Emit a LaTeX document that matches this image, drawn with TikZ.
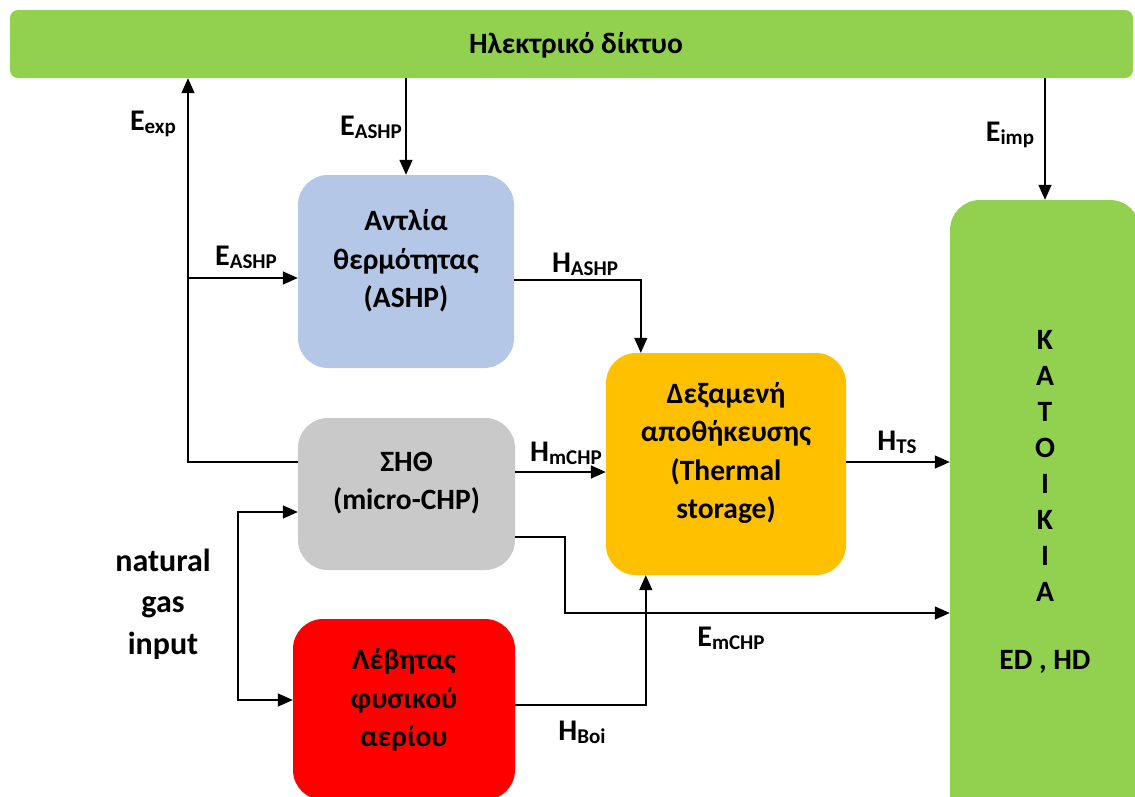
\documentclass[tikz,border=0pt]{standalone}
\usepackage{fontspec}
\setmainfont{Carlito}
\usetikzlibrary{arrows.meta}
\definecolor{gridgreen}{HTML}{92D050}
\definecolor{hpblue}{HTML}{B4C7E7}
\definecolor{chpgray}{HTML}{C9C9C9}
\definecolor{tankorange}{HTML}{FFC000}
\definecolor{boilred}{HTML}{FF0000}
% subscript part of a flow label
\newcommand{\flowsub}[1]{\raisebox{-3pt}{\fontsize{21}{21}\selectfont #1}}
\begin{document}
\begin{tikzpicture}[x=1pt,y=-1pt,
  unit/.style={draw=none, rounded corners=30pt, inner sep=0pt},
  txt/.style={font=\bfseries\fontsize{29.5}{38.5}\selectfont, align=center, inner sep=0pt},
  flow/.style={font=\bfseries\fontsize{30}{30}\selectfont, inner sep=0pt},
  arr/.style={line width=1.4pt, -{Triangle[length=15pt,width=13pt]}},
  biarr/.style={line width=1.4pt, {Triangle[length=15pt,width=13pt]}-{Triangle[length=15pt,width=13pt]}}]
\useasboundingbox (0,0) rectangle (1135,796);
\clip (0,0) rectangle (1135,796);

% grid bar and units
\node[unit, fill=gridgreen, rounded corners=8pt, minimum width=1123pt, minimum height=68pt] (grid) at (571.5,44) {};
\node[txt] (gridT) at (576,45) {Ηλεκτρικό δίκτυο};

\node[unit, fill=hpblue, minimum width=216pt, minimum height=193pt] (ashp) at (406,271.5) {};
\node[txt] (ashpT) at (406,261) {Αντλία\\θερμότητας\\(ASHP)};

\node[unit, fill=chpgray, minimum width=217pt, minimum height=152pt] (chp) at (406.5,494) {};
\node[txt] (chpT) at (406.5,483) {ΣΗΘ\\(micro-CHP)};

\node[unit, fill=boilred, minimum width=222pt, minimum height=181pt] (boiler) at (404,709.5) {};
\node[txt] (boilerT) at (404,700) {Λέβητας\\φυσικού\\αερίου};

\node[unit, fill=tankorange, minimum width=240pt, minimum height=222pt] (store) at (726,464) {};
\node[txt] (storeT) at (726,453) {Δεξαμενή\\αποθήκευσης\\(Thermal\\storage)};

\node[unit, fill=gridgreen, minimum width=190pt, minimum height=630pt] (house) at (1045,515) {};
\node[txt, font=\bfseries\fontsize{29.5}{36}\selectfont] (houseT) at (1045,466) {Κ\\Α\\Τ\\Ο\\Ι\\Κ\\Ι\\Α};
\node[txt] (houseD) at (1045,662) {ED , HD};

\node[txt, font=\bfseries\fontsize{32}{41.5}\selectfont] (gas) at (163,604) {natural\\gas\\input};

% junctions of the orthogonal connectors
\coordinate (split) at (188,278);
\coordinate (ebend) at (565,613);
\coordinate (gtop) at (238,512);
\coordinate (gbot) at (238,700);

% electricity flows
\draw[arr] ([yshift=32pt]chp.west) -| (grid.south -| split);
\draw[arr] (split) -- (split -| ashp.west);
\draw[arr] (grid.south -| ashp.north) -- (ashp.north);
\draw[arr] (grid.south -| house.north) -- (house.north);
\draw[arr] ([yshift=-43pt]chp.east) -| (ebend) -- (ebend -| house.west);

% heat flows
\draw[arr] ([yshift=-8.5pt]ashp.east) -| ([xshift=35pt]store.north west);
\draw[arr] ([yshift=22pt]chp.east) -- ([yshift=22pt]chp.east -| store.west);
\draw[arr] ([yshift=2pt]store.east) -- ([yshift=2pt]store.east -| house.west);
\draw[arr] ([yshift=4.5pt]boiler.east) -| ([xshift=40pt]store.south west);

% gas supply
\draw[biarr] (chp.west |- gtop) -- (gtop) -- (gbot) -- (boiler.west |- gbot);

% flow labels
\node[flow] (lexp) at (153,124) {E\flowsub{exp}};
\node[flow] (lashpA) at (371,127) {E\flowsub{ASHP}};
\node[flow] (limp) at (1010,135) {E\flowsub{imp}};
\node[flow] (lashpB) at (246,257) {E\flowsub{ASHP}};
\node[flow] (lhashp) at (585,264) {H\flowsub{ASHP}};
\node[flow] (lhchp) at (566,453) {H\flowsub{mCHP}};
\node[flow] (lhts) at (897,442) {H\flowsub{TS}};
\node[flow] (lechp) at (731,638) {E\flowsub{mCHP}};
\node[flow] (lhboi) at (582,732) {H\flowsub{Boi}};
\end{tikzpicture}
\end{document}
